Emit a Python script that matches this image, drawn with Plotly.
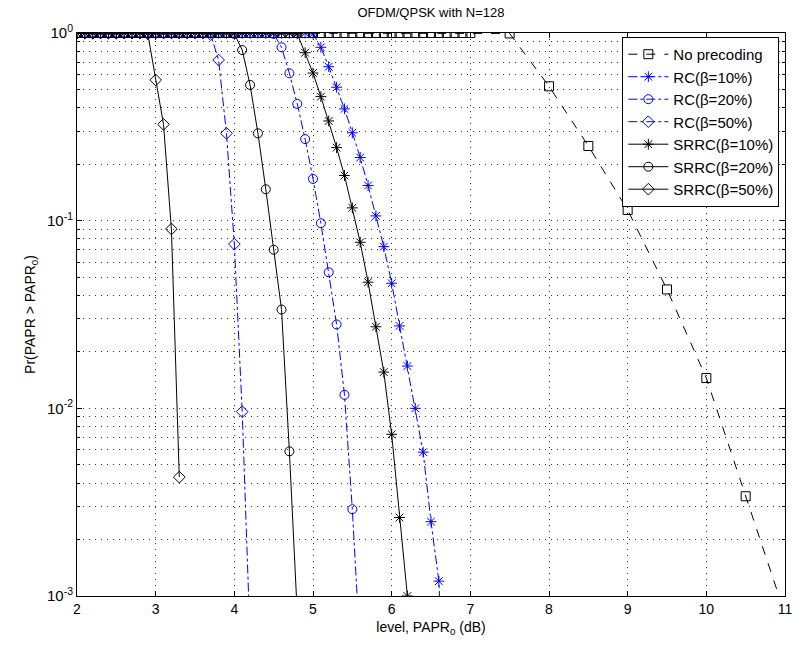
import plotly.graph_objects as go

# ---- data ----
level_db = [2.0, 2.1, 2.2, 2.3, 2.4, 2.5, 2.6, 2.7, 2.8, 2.9,
            3.0, 3.1, 3.2, 3.3, 3.4, 3.5, 3.6, 3.7, 3.8, 3.9,
            4.0, 4.1, 4.2, 4.3, 4.4, 4.5, 4.6, 4.7, 4.8, 4.9,
            5.0, 5.1, 5.2, 5.3, 5.4, 5.5, 5.6, 5.7, 5.8, 5.9,
            6.0, 6.1, 6.2, 6.3, 6.4, 6.5, 6.6, 6.7, 6.8, 6.9, 7.0]

nopre_x = level_db + [7.5, 8.0, 8.5, 9.0, 9.5, 10.0, 10.5, 11.0]
nopre_y = [1.0, 1.0, 1.0, 1.0, 1.0, 1.0, 1.0, 1.0, 1.0, 1.0,
           1.0, 1.0, 1.0, 1.0, 1.0, 1.0, 1.0, 1.0, 1.0, 1.0,
           1.0, 1.0, 1.0, 1.0, 1.0, 1.0, 1.0, 1.0, 1.0, 1.0,
           1.0, 1.0, 1.0, 1.0, 1.0, 1.0, 1.0, 1.0, 1.0, 1.0,
           1.0, 1.0, 1.0, 1.0, 1.0, 1.0, 1.0, 1.0, 1.0, 1.0, 1.0,
           0.995, 0.52, 0.25, 0.114, 0.043, 0.0145, 0.0034, 0.0008]

rc10_x = level_db[:48]
rc10_y = [1.0, 1.0, 1.0, 1.0, 1.0, 1.0, 1.0, 1.0, 1.0, 1.0,
          1.0, 1.0, 1.0, 1.0, 1.0, 1.0, 1.0, 1.0, 1.0, 1.0,
          1.0, 1.0, 1.0, 1.0, 1.0, 1.0, 1.0, 1.0, 1.0, 1.0,
          0.99, 0.839, 0.661, 0.514, 0.394, 0.294, 0.217, 0.154, 0.106, 0.0727,
          0.0464, 0.0275, 0.0168, 0.0100, 0.00584, 0.00249, 0.00120, 0.0001]

rc20_x = level_db[:37]
rc20_y = [1.0, 1.0, 1.0, 1.0, 1.0, 1.0, 1.0, 1.0, 1.0, 1.0,
          1.0, 1.0, 1.0, 1.0, 1.0, 1.0, 1.0, 1.0, 1.0, 1.0,
          1.0, 1.0, 1.0, 1.0, 1.0, 0.99, 0.839, 0.610, 0.419, 0.272,
          0.167, 0.0969, 0.0531, 0.028, 0.0118, 0.0029, 0.0005]

rc50_x = level_db[:23]
rc50_y = [1.0, 1.0, 1.0, 1.0, 1.0, 1.0, 1.0, 1.0, 1.0, 1.0,
          1.0, 1.0, 1.0, 1.0, 1.0, 1.0, 1.0, 0.98, 0.718, 0.292,
          0.075, 0.0096, 0.0006]

srrc10_x = level_db[:43]
srrc10_y = [1.0, 1.0, 1.0, 1.0, 1.0, 1.0, 1.0, 1.0, 1.0, 1.0,
            1.0, 1.0, 1.0, 1.0, 1.0, 1.0, 1.0, 1.0, 1.0, 1.0,
            1.0, 1.0, 1.0, 1.0, 1.0, 1.0, 1.0, 1.0, 0.99, 0.785,
            0.612, 0.458, 0.340, 0.245, 0.174, 0.117, 0.0767, 0.047, 0.0272, 0.0156,
            0.00727, 0.00262, 0.00100]

srrc20_x = level_db[:29]
srrc20_y = [1.0, 1.0, 1.0, 1.0, 1.0, 1.0, 1.0, 1.0, 1.0, 1.0,
            1.0, 1.0, 1.0, 1.0, 1.0, 1.0, 1.0, 1.0, 1.0, 1.0,
            0.99, 0.811, 0.529, 0.292, 0.147, 0.070, 0.0336, 0.0059, 0.0008]

srrc50_x = level_db[:14]
srrc50_y = [1.0, 1.0, 1.0, 1.0, 1.0, 1.0, 1.0, 1.0, 1.0, 0.99,
            0.562, 0.326, 0.0903, 0.0043]

x_ticks = [2, 3, 4, 5, 6, 7, 8, 9, 10, 11]
y_ticks = [1e-3, 1e-2, 1e-1, 1]
y_tick_text = ["10<sup>-3</sup>", "10<sup>-2</sup>", "10<sup>-1</sup>", "10<sup>0</sup>"]
y_minor_ticks = [2e-3, 3e-3, 4e-3, 5e-3, 6e-3, 7e-3, 8e-3, 9e-3,
                 2e-2, 3e-2, 4e-2, 5e-2, 6e-2, 7e-2, 8e-2, 9e-2,
                 2e-1, 3e-1, 4e-1, 5e-1, 6e-1, 7e-1, 8e-1, 9e-1]

series = [
    ("No precoding", nopre_x, nopre_y, "black", "dash", "square-open"),
    ("RC(β=10%)", rc10_x, rc10_y, "blue", "dashdot", "asterisk-open"),
    ("RC(β=20%)", rc20_x, rc20_y, "blue", "dashdot", "circle-open"),
    ("RC(β=50%)", rc50_x, rc50_y, "blue", "dashdot", "diamond-open"),
    ("SRRC(β=10%)", srrc10_x, srrc10_y, "black", "solid", "asterisk-open"),
    ("SRRC(β=20%)", srrc20_x, srrc20_y, "black", "solid", "circle-open"),
    ("SRRC(β=50%)", srrc50_x, srrc50_y, "black", "solid", "diamond-open"),
]

FONT = "Liberation Sans, Arial, sans-serif"

fig = go.Figure()
for name, xs, ys, color, dash, sym in series:
    fig.add_trace(go.Scatter(
        x=xs, y=ys, name=name, mode="lines+markers",
        line=dict(color=color, width=1, dash=dash),
        marker=dict(symbol=sym, size=9, color=color, line=dict(width=1, color=color)),
        cliponaxis=True,
    ))

grid_style = dict(showgrid=True, gridcolor="#333", griddash="1px,5px", gridwidth=1)

fig.update_layout(
    width=801, height=645,
    margin=dict(l=77, r=9, t=33, b=49),
    paper_bgcolor="white", plot_bgcolor="white",
    font=dict(family=FONT, size=14, color="black"),
    title=dict(text="OFDM/QPSK with N=128", x=0.5, xref="paper", y=0.988, yanchor="top",
               font=dict(family=FONT, size=13, color="black")),
    showlegend=True,
    legend=dict(x=0.992, y=0.993, xanchor="right", yanchor="top",
                bordercolor="black", borderwidth=1, bgcolor="white",
                font=dict(family=FONT, size=15, color="black"),
                tracegroupgap=0, itemwidth=40),
)
fig.update_xaxes(
    range=[2, 11], tickvals=x_ticks, ticks="inside", ticklen=5, tickcolor="black",
    showline=True, linecolor="black", linewidth=1, mirror="ticks",
    zeroline=False, **grid_style,
    title=dict(text="level, PAPR<sub>0</sub> (dB)", standoff=6, font=dict(size=14)),
    tickfont=dict(size=14),
)
fig.update_yaxes(
    type="log", range=[-3, 0], tickvals=y_ticks, ticktext=y_tick_text,
    ticks="inside", ticklen=5, tickcolor="black",
    showline=True, linecolor="black", linewidth=1, mirror="ticks",
    zeroline=False, **grid_style,
    minor=dict(tickvals=y_minor_ticks, ticks="inside", ticklen=3, tickcolor="black",
               showgrid=True, gridcolor="#333", griddash="1px,5px", gridwidth=1),
    title=dict(text="Pr(PAPR > PAPR<sub>0</sub>)", standoff=8, font=dict(size=14)),
    tickfont=dict(size=15),
)

fig.write_html("out.html")
